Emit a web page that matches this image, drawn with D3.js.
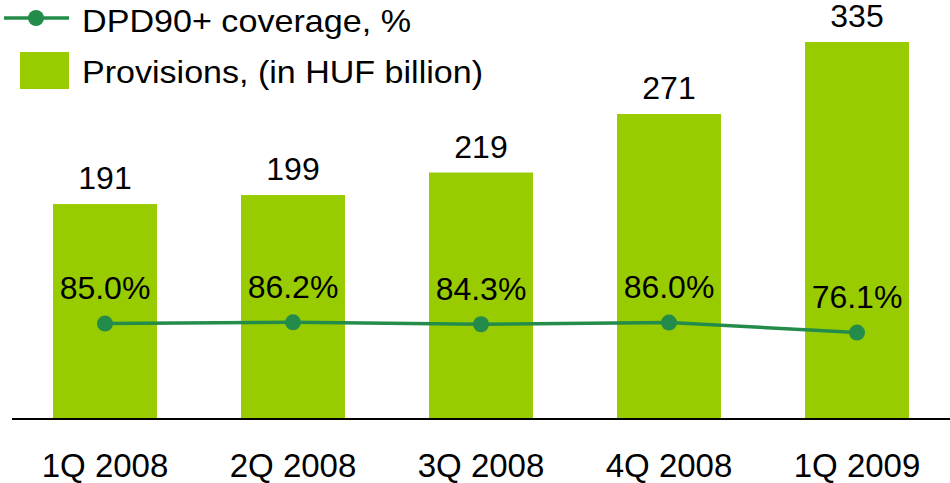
<!DOCTYPE html>
<html>
<head>
<meta charset="utf-8">
<script src="https://cdn.jsdelivr.net/npm/d3@7"></script>
<style>
  body { margin: 0; background: #fff; }
  text { font-family: "Liberation Sans", Arial, sans-serif; fill: #000; }
</style>
</head>
<body>
<svg id="chart" width="950" height="483"></svg>
<script>
// data
const quarters = ["1Q 2008", "2Q 2008", "3Q 2008", "4Q 2008", "1Q 2009"];
const provisions = [191, 199, 219, 271, 335];
const coverage = [85.0, 86.2, 84.3, 86.0, 76.1];

const barColor = "#99cc00";
const lineColor = "#238c4a";

const svg = d3.select("#chart");

// scales
const xScale = d3.scaleBand()
    .domain(quarters)
    .range([11, 951])
    .paddingInner(0.447)
    .paddingOuter(0.2235);

const yBar = d3.scaleLinear()
    .domain([0, 372.3])
    .range([419, 0]);

const yLine = d3.scaleLinear()
    .domain([0, 100])
    .range([409.5, 308.4]);

const xMid = (d, i) => xScale(quarters[i]) + xScale.bandwidth() / 2;

// bars
svg.selectAll(".bar")
    .data(provisions)
    .join("rect")
    .attr("class", "bar")
    .attr("x", (d, i) => xScale(quarters[i]))
    .attr("y", d => yBar(d))
    .attr("width", xScale.bandwidth())
    .attr("height", d => yBar(0) - yBar(d))
    .attr("fill", barColor);

// bar value labels
svg.selectAll(".barLabel")
    .data(provisions)
    .join("text")
    .attr("class", "barLabel")
    .attr("x", xMid)
    .attr("y", d => yBar(d) - 15)
    .attr("text-anchor", "middle")
    .attr("font-size", "32px")
    .text(d => d);

// baseline
svg.append("line")
    .attr("x1", 12)
    .attr("x2", 950)
    .attr("y1", yBar(0))
    .attr("y2", yBar(0))
    .attr("stroke", "#000")
    .attr("stroke-width", 2);

// category labels
svg.selectAll(".catLabel")
    .data(quarters)
    .join("text")
    .attr("class", "catLabel")
    .attr("x", d => xScale(d) + xScale.bandwidth() / 2)
    .attr("y", 477)
    .attr("text-anchor", "middle")
    .attr("font-size", "33px")
    .text(d => d);

// coverage line
const lineGen = d3.line()
    .x(xMid)
    .y(d => yLine(d));

svg.append("path")
    .datum(coverage)
    .attr("d", lineGen)
    .attr("fill", "none")
    .attr("stroke", lineColor)
    .attr("stroke-width", 3.5);

svg.selectAll(".dot")
    .data(coverage)
    .join("circle")
    .attr("class", "dot")
    .attr("cx", xMid)
    .attr("cy", d => yLine(d))
    .attr("r", 8)
    .attr("fill", lineColor);

svg.selectAll(".pctLabel")
    .data(coverage)
    .join("text")
    .attr("class", "pctLabel")
    .attr("x", xMid)
    .attr("y", d => yLine(d) - 24.5)
    .attr("text-anchor", "middle")
    .attr("font-size", "32px")
    .text(d => d.toFixed(1) + "%");

// legend
const legend = svg.append("g").attr("class", "legend");

legend.append("line")
    .attr("x1", 4).attr("x2", 69)
    .attr("y1", 18).attr("y2", 18)
    .attr("stroke", lineColor)
    .attr("stroke-width", 3.5);

legend.append("circle")
    .attr("cx", 36).attr("cy", 18).attr("r", 8)
    .attr("fill", lineColor);

legend.append("text")
    .attr("x", 82).attr("y", 32)
    .attr("font-size", "32px")
    .attr("textLength", 329)
    .attr("lengthAdjust", "spacingAndGlyphs")
    .text("DPD90+ coverage, %");

legend.append("rect")
    .attr("x", 20).attr("y", 52)
    .attr("width", 49).attr("height", 37)
    .attr("fill", barColor);

legend.append("text")
    .attr("x", 82).attr("y", 83)
    .attr("font-size", "32px")
    .attr("textLength", 401)
    .attr("lengthAdjust", "spacingAndGlyphs")
    .text("Provisions, (in HUF billion)");
</script>
</body>
</html>
